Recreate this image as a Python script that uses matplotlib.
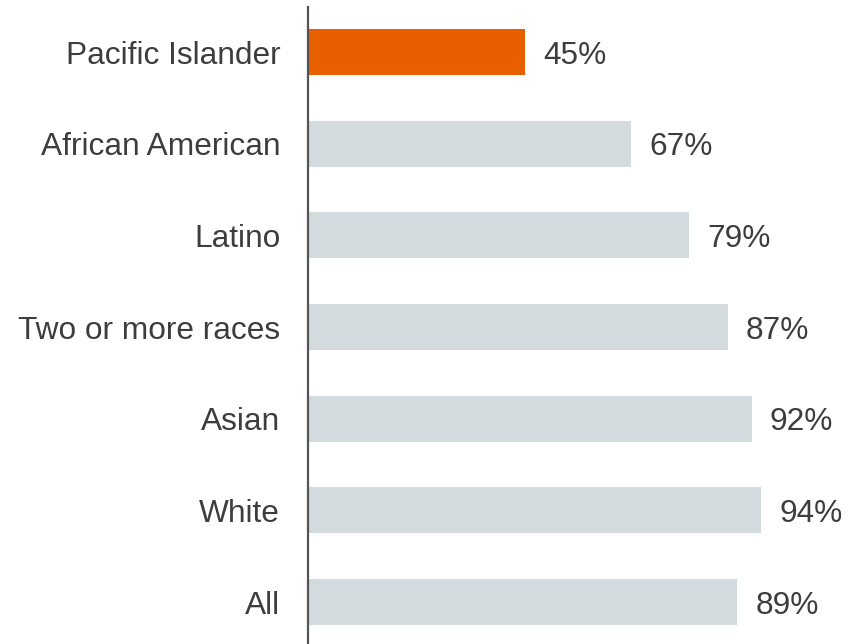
import matplotlib
matplotlib.use("Agg")
from matplotlib import pyplot as plt

# Data
groups = ['Pacific Islander', 'African American', 'Latino', 'Two or more races',
          'Asian', 'White', 'All']
values = [45, 67, 79, 87, 92, 94, 89]
highlight = 'Pacific Islander'

# Style
orange = '#E85F00'
grey = '#D3DBDE'
text_c = '#3D3D3D'
plt.rcParams['font.family'] = ['Liberation Sans', 'DejaVu Sans']

fig = plt.figure(figsize=(8.54, 6.44), dpi=100)
ax = fig.add_axes([308 / 854, 0, 1 - 308 / 854, 637 / 644])

colors = [orange if g == highlight else grey for g in groups]
ypos = list(range(len(groups)))
ax.barh(ypos, values, height=0.5, color=colors)

for y, v in zip(ypos, values):
    ax.annotate(f'{v}%', (v, y), xytext=(13, 0), textcoords='offset points',
                va='center_baseline', ha='left', fontsize=22.8, color=text_c)

ax.set_yticks(ypos)
ax.set_yticklabels(groups, fontsize=22.8, color=text_c, va='center_baseline')
ax.tick_params(axis='y', length=0, pad=20)
ax.set_xticks([])
ax.set_xlim(0, 113.2)
ax.set_ylim(6.458, -0.491)

for s in ['top', 'right', 'bottom']:
    ax.spines[s].set_visible(False)
ax.spines['left'].set_color('#555555')
ax.spines['left'].set_linewidth(1.6)

plt.savefig('out.png', dpi=100)
